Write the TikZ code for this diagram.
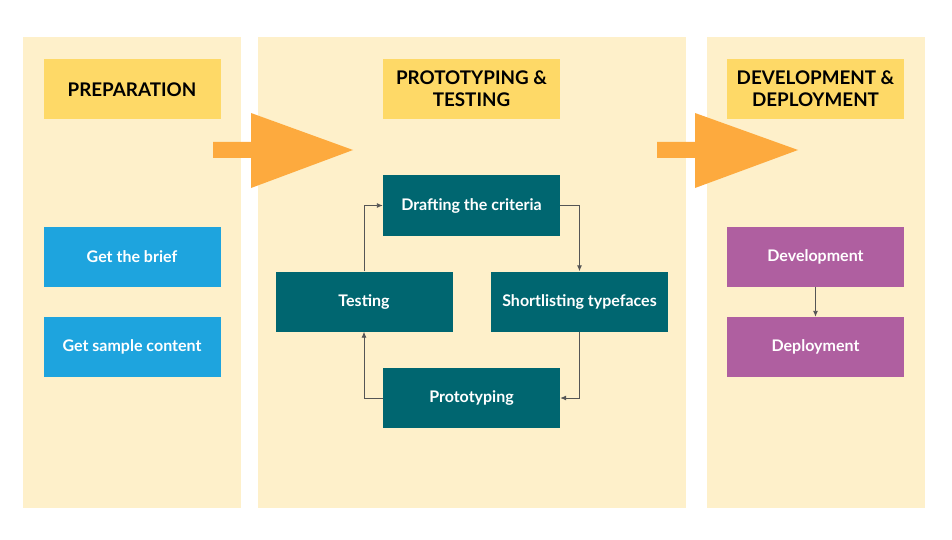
\documentclass[tikz,border=0pt]{standalone}
\usepackage{fontspec}
\setmainfont{Lato}
\usetikzlibrary{arrows.meta}
\definecolor{panelbg}{HTML}{FEF0CA}
\definecolor{headbg}{HTML}{FED967}
\definecolor{arrowor}{HTML}{FDAA3E}
\definecolor{tealbox}{HTML}{006670}
\definecolor{bluebox}{HTML}{1EA4DE}
\definecolor{purplebox}{HTML}{AF5FA0}
\definecolor{conn}{HTML}{555555}
\tikzset{
  panel/.style={fill=panelbg, draw=none},
  header/.style={fill=headbg, draw=none, minimum width=177pt, minimum height=60pt, inner sep=0pt, align=center, font=\fontsize{18.8}{22}\selectfont\bfseries, text=black},
  procbox/.style={draw=none, minimum width=177pt, minimum height=60pt, inner sep=0pt, align=center, font=\fontsize{16}{19}\selectfont\bfseries, text=white},
  tealstep/.style={procbox, fill=tealbox},
  bluestep/.style={procbox, fill=bluebox},
  purplestep/.style={procbox, fill=purplebox},
  bigarrow/.style={fill=arrowor, draw=none},
  link/.style={draw=conn, line width=0.9pt, -{Latex[length=6pt,width=5pt]}}
}
\begin{document}
\begin{tikzpicture}[x=1pt,y=-1pt]
\useasboundingbox (0,0) rectangle (952,540);
% panels
\fill[panel] (23,37) rectangle (241,508);
\fill[panel] (258,37) rectangle (686,508);
\fill[panel] (707,37) rectangle (925,508);
% big arrows
\fill[bigarrow] (213,142) -- (251,142) -- (251,113) -- (353,150) -- (251,188) -- (251,158) -- (213,158) -- cycle;
\fill[bigarrow] (657,142) -- (695,142) -- (695,113) -- (798,150) -- (695,188) -- (695,158) -- (657,158) -- cycle;
% headers
\node[header] (h1) at (132,89.5) {PREPARATION};
\node[header] (h2) at (471.5,89) {PROTOTYPING \&\\TESTING};
\node[header] (h3) at (815.5,89) {DEVELOPMENT \&\\DEPLOYMENT};
% preparation
\node[bluestep] (brief) at (132,256.5) {Get the brief};
\node[bluestep] (sample) at (132,347) {Get sample content};
% prototyping cycle
\node[tealstep] (draft) at (471.5,205.5) {Drafting the criteria};
\node[tealstep] (test) at (364,301.5) {Testing};
\node[tealstep] (short) at (579.5,301.5) {Shortlisting typefaces};
\node[tealstep] (proto) at (471.5,398) {Prototyping};
\draw[link] (draft.east) -| (short.north);
\draw[link] (short.south) |- (proto.east);
\draw[link] (proto.west) -| (test.south);
\draw[link] (test.north) |- (draft.west);
% development
\node[purplestep] (dev) at (815.5,256.5) {Development};
\node[purplestep] (dep) at (815.5,347) {Deployment};
\draw[link] (dev.south) -- (dep.north);
\end{tikzpicture}
\end{document}
